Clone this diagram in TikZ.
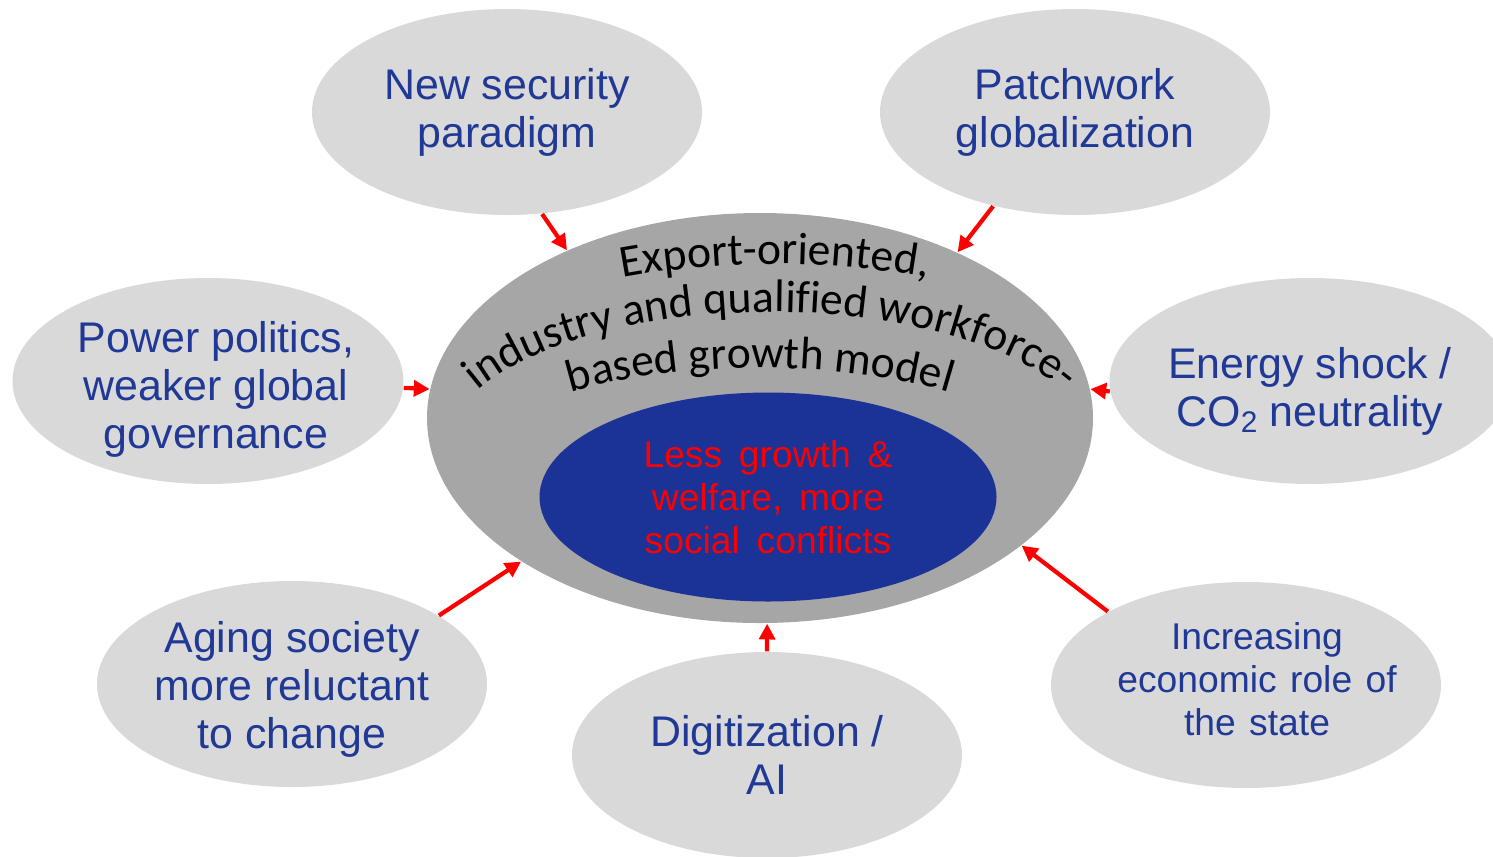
\documentclass[tikz,border=0pt]{standalone}
\usepackage{fontspec}
\setmainfont{Liberation Sans}
\newfontfamily\archfont{Carlito}
\usetikzlibrary{shapes.geometric, arrows.meta, decorations.text}

\definecolor{ovalgray}{RGB}{217,217,217}
\definecolor{coregray}{RGB}{166,166,166}
\definecolor{coreblue}{RGB}{27,50,150}
\definecolor{labelblue}{RGB}{32,56,150}

\newcommand{\archstyle}{\archfont\fontsize{13pt}{15pt}\selectfont}
\newcommand{\widegap}{\spaceskip=0.45em\relax}
\newcommand{\mediumgap}{\spaceskip=0.36em\relax}
\newcommand{\lowtwo}{\raisebox{-0.25ex}{\fontsize{8.5}{9}\selectfont 2}}
% move a block of lines inside its oval without changing the oval
\newcommand{\nudge}[3]{\hspace*{#1}\raisebox{#2}[\height][\depth]{\begin{tabular}{@{}c@{}}#3\end{tabular}}\hspace*{-#1}}

\begin{document}
\begin{tikzpicture}[
  oval/.style={ellipse, fill=ovalgray, minimum width=3.9cm, minimum height=2.06cm,
    inner sep=0pt, align=center, text=labelblue, font=\fontsize{12.2}{13.7}\selectfont},
  smalloval/.style={oval, inner xsep=-0.25cm, font=\fontsize{10.6}{12.2}\selectfont\mediumgap},
  push/.style={red, line width=1.2pt, -{Triangle[length=4.5pt,width=4.5pt]}},
  arch/.style={decorate, decoration={text along path, text align=center, text={|\archstyle|#1}}}
]

\useasboundingbox (0,0) rectangle (14.93,8.56);

% Core ellipse and its inner result
\node[ellipse, fill=coregray, minimum width=6.66cm, minimum height=4.10cm, inner sep=0pt] (core) at (7.60,4.38) {};
\node[ellipse, fill=coreblue, minimum width=4.57cm, minimum height=2.09cm, inner sep=0pt,
  align=center, text=red, font=\fontsize{10.6}{12.2}\selectfont\widegap] (impact) at (7.68,3.59)
  {Less growth \&\\welfare, more\\social conflicts};

% Arched lines on the core
\path[arch={Export-oriented,}] (7.75,3.99) ++(170:4.11 and 1.93) arc[start angle=170, end angle=10, x radius=4.11, y radius=1.93];
\path[arch={industry and qualified workforce-}] (7.71,3.99) ++(170:3.30 and 1.45) arc[start angle=170, end angle=10, x radius=3.30, y radius=1.45];
\path[arch={based growth model}] (7.60,3.99) ++(170:2.75 and 0.89) arc[start angle=170, end angle=10, x radius=2.75, y radius=0.89];

% Drivers around the core
\node[oval] (security) at (5.07,7.44) {New security\\paradigm};
\node[oval] (globalization) at (10.75,7.44) {Patchwork\\globalization};
\node[oval] (power) at (2.08,4.75) {\nudge{0.08cm}{-0.1cm}{Power politics,\\weaker global\\governance}};
\node[oval] (energy) at (13.10,4.75) {\nudge{0cm}{-0.12cm}{Energy shock /\\CO\lowtwo\ neutrality}};
\node[oval] (aging) at (2.92,1.72) {\nudge{0cm}{-0.07cm}{Aging society\\more reluctant\\to change}};
\node[oval] (digital) at (7.67,1.01) {Digitization /\\AI};
\node[smalloval] (state) at (12.46,1.71) {\nudge{0.11cm}{0.01cm}{Increasing\\economic role of\\the state}};

% Arrows into the core
\draw[push] (security.289) -- (core.139);
\draw[push] (globalization.229) -- (core.40);
\draw[push] (power.358) -- (core.175);
\draw[push] (energy.183) -- (core.5);
\draw[push] (aging.25) -- (core.211);
\draw[push] (state.152) -- (core.334);
\draw[push] (digital.90) -- (core.272);

\end{tikzpicture}
\end{document}
